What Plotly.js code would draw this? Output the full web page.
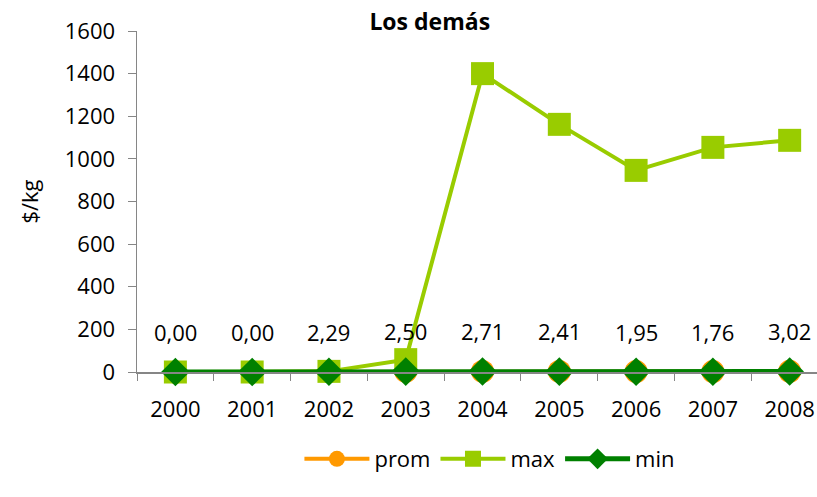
<!DOCTYPE html>
<html><head><meta charset="utf-8">
<script src="https://cdn.plot.ly/plotly-3.0.1.min.js"></script>
<style>html,body{margin:0;padding:0;background:#fff}#chart{width:817px;height:497px}</style>
</head><body><div id="chart"></div>
<script>
const years = ["2000","2001","2002","2003","2004","2005","2006","2007","2008"];
const prom = [0.00, 0.00, 2.29, 2.50, 2.71, 2.41, 1.95, 1.76, 3.02];
const maxV = [0, 0, 3, 58, 1400, 1162, 946, 1054, 1087];
const minV = [0, 0, 1.5, 1.8, 2.0, 1.7, 1.3, 1.2, 2.2];
const promLabels = ["0,00","0,00","2,29","2,50","2,71","2,41","1,95","1,76","3,02"];
const yTicks = [0,200,400,600,800,1000,1200,1400,1600];

const FONT = "Open Sans, Lato, sans-serif";
const FS = 22;
const traces = [
  {x: years, y: prom, name: "prom", mode: "lines+markers", type: "scatter", cliponaxis: false,
   line: {color: "#FF9900", width: 4}, marker: {symbol: "circle", size: 23, color: "#FF9900"}},
  {x: years, y: maxV, name: "max", mode: "lines+markers", type: "scatter", cliponaxis: false,
   line: {color: "#99CC00", width: 4}, marker: {symbol: "square", size: 23, color: "#99CC00"}},
  {x: years, y: minV, name: "min", mode: "lines+markers", type: "scatter", cliponaxis: false,
   line: {color: "#008000", width: 5}, marker: {symbol: "diamond", size: 22, color: "#008000"}}
];
const annotations = years.map((yr, i) => ({
  x: i, y: prom[i], xref: "x", yref: "y", text: promLabels[i], showarrow: false,
  yshift: 40, font: {family: FONT, size: FS, color: "#000"}
}));
const layout = {
  width: 817, height: 497,
  margin: {l: 137, r: 0, t: 31, b: 125, autoexpand: false},
  paper_bgcolor: "#fff", plot_bgcolor: "#fff",
  font: {family: FONT, size: FS, color: "#000"},
  title: {text: "<b>Los demás</b>", x: 0.526, xref: "container", xanchor: "center",
          y: 1 - 22/497, yref: "container", yanchor: "middle", font: {family: FONT, size: 23, color: "#000"}},
  xaxis: {type: "category", range: [-0.5, 8.356], showgrid: false, zeroline: false,
          showline: true, linecolor: "#868686", linewidth: 1.5,
          ticks: "outside", ticklen: 7, tickcolor: "#868686", tickson: "boundaries",
          tickfont: {family: FONT, size: FS}, ticklabelstandoff: 17},
  yaxis: {range: [0, 1600], tickvals: yTicks, showgrid: false, zeroline: false,
          showline: true, linecolor: "#868686", linewidth: 1.5,
          ticks: "outside", ticklen: 8, tickcolor: "#868686",
          tickfont: {family: FONT, size: FS}, ticklabelstandoff: 8,
          title: {text: "$/kg", font: {family: FONT, size: FS}, standoff: 20}},
  showlegend: true,
  legend: {orientation: "h", x: 0.519, xanchor: "center", y: 1 - 459/497, yref: "container", yanchor: "middle",
           font: {family: FONT, size: FS}, traceorder: "normal", itemwidth: 65},
  annotations: annotations
};
Plotly.newPlot("chart", traces, layout, {staticPlot: true, displayModeBar: false});
</script></body></html>
